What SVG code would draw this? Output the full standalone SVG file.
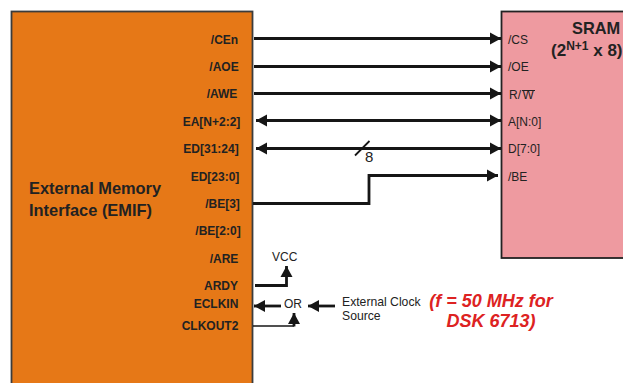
<svg xmlns="http://www.w3.org/2000/svg" width="623" height="383" viewBox="0 0 623 383">
<style>
text{font-family:"Liberation Sans",Arial,sans-serif;fill:#222}
.p{font-size:12px;font-weight:bold;text-anchor:middle}
.s{font-size:12px}
.e{font-size:12.200px}
.t{font-size:16.400px;font-weight:bold}
.r{font-size:18px;font-weight:bold;font-style:italic;fill:#dd2222;text-anchor:middle}
.c{fill:none;stroke:#161616;stroke-width:2.800}
.h{fill:#161616}
</style>
<defs>
<marker id="a" markerUnits="userSpaceOnUse" markerWidth="12" markerHeight="13" refX="11" refY="6.500" orient="auto-start-reverse"><path d="M0 0.500L11 6.500L0 12.500Z" class="h"/></marker>
</defs>
<g id="emif">
<rect x="11.500" y="11.500" width="241" height="380" fill="#e67817" stroke="#3c3c3c" stroke-width="1.800"/>
<text class="t" x="29" y="194">External Memory</text>
<text class="t" x="29" y="216">Interface (EMIF)</text>
<text class="p" x="224.500" y="44">/CEn</text>
<text class="p" x="224" y="71">/AOE</text>
<text class="p" x="222" y="98">/AWE</text>
<text class="p" x="211.500" y="126">EA[N+2:2]</text>
<text class="p" x="211" y="153">ED[31:24]</text>
<text class="p" x="215" y="181">ED[23:0]</text>
<text class="p" x="222.500" y="208">/BE[3]</text>
<text class="p" x="218" y="235">/BE[2:0]</text>
<text class="p" x="224" y="263">/ARE</text>
<text class="p" x="221" y="290">ARDY</text>
<text class="p" x="216" y="308">ECLKIN</text>
<text class="p" x="210" y="330">CLKOUT2</text>
</g>
<g id="sram">
<rect x="501.500" y="11.500" width="140" height="246.500" fill="#ee9aa0" stroke="#222" stroke-width="1.800"/>
<text class="t" x="572" y="34" font-size="17">SRAM</text>
<text x="551" y="56" font-size="17" font-weight="bold">(2<tspan font-size="12px" dy="-6">N+1</tspan><tspan dy="6"> x 8)</tspan></text>
<text class="s" x="508" y="44">/CS</text>
<text class="s" x="508" y="71">/OE</text>
<text class="s" x="509" y="99">R/<tspan dx="1.500">W</tspan></text>
<path d="M522 90.500H535" stroke="#222" fill="none"/>
<text class="s" x="508" y="126">A[N:0]</text>
<text class="s" x="508" y="153">D[7:0]</text>
<text class="s" x="508" y="181">/BE</text>
</g>
<g id="connectors">
<path class="c" d="M254 38.500H501" marker-end="url(#a)"/>
<path class="c" d="M254 66.500H501" marker-end="url(#a)"/>
<path class="c" d="M254 93.500H501" marker-end="url(#a)"/>
<path class="c" d="M256 120.500H501" marker-start="url(#a)" marker-end="url(#a)"/>
<path class="c" d="M256 148.500H501" marker-start="url(#a)" marker-end="url(#a)"/>
<path d="M355 155.500L369.500 141" fill="none" stroke="#161616" stroke-width="1.800"/>
<path class="c" d="M253 203.500H369V175.500H498" marker-end="url(#a)"/>
<path class="c" d="M255 285.500H286.500V266" marker-end="url(#a)"/>
<path class="c" d="M281 306H254" marker-end="url(#a)"/>
<path class="c" d="M335 306H308" marker-end="url(#a)"/>
<path d="M253 326H294" fill="none" stroke="#161616" stroke-width="1.600"/>
<path class="c" d="M294 326.500V313" marker-end="url(#a)"/>
</g>
<g id="labels">
<text x="365" y="162" font-size="15">8</text>
<text class="s" x="272" y="261">VCC</text>
<text class="s" x="284" y="308">OR</text>
<text class="e" x="342" y="306">External Clock</text>
<text class="e" x="342" y="320">Source</text>
<text class="r" x="491" y="307">(f = 50 MHz for</text>
<text class="r" x="491" y="327">DSK 6713)</text>
</g>
</svg>
